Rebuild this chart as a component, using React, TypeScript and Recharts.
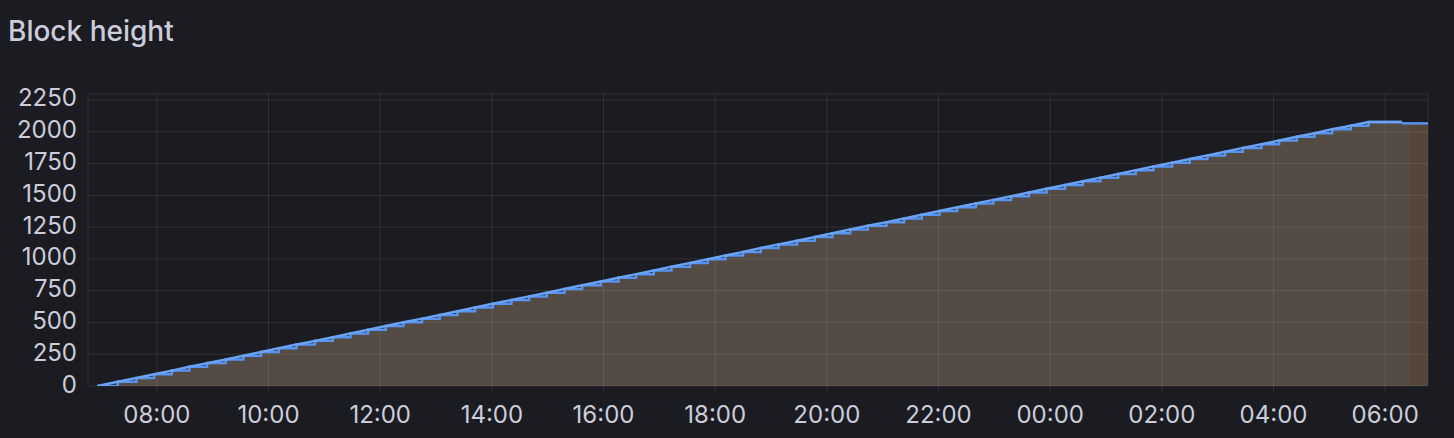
import React from "react";
import { ComposedChart, Area, Line, XAxis, YAxis, CartesianGrid } from "recharts";

if (typeof document !== "undefined") {
  document.body.style.margin = "0";
}

const chartTitle = "Block height";
const yTicks = [0, 250, 500, 750, 1000, 1250, 1500, 1750, 2000, 2250];
const xTickLabels = ["08:00", "10:00", "12:00", "14:00", "16:00", "18:00", "20:00", "22:00", "00:00", "02:00", "04:00", "06:00"];
const windowStart = "06:46";

// block height samples (stepped series + linear series share them)
const sampleTimes = [
  "06:56", "07:18", "07:38", "07:57", "08:16", "08:35", "08:54", "09:14", "09:33", "09:52",
  "10:11", "10:30", "10:50", "11:09", "11:28", "11:47", "12:06", "12:25", "12:45", "13:04",
  "13:23", "13:42", "14:01", "14:21", "14:40", "14:59", "15:18", "15:37", "15:57", "16:16",
  "16:35", "16:54", "17:13", "17:33", "17:52", "18:11", "18:30", "18:49", "19:08", "19:28",
  "19:47", "20:06", "20:25", "20:44", "21:04", "21:23", "21:42", "22:01", "22:20", "22:40",
  "22:59", "23:18", "23:37", "23:56", "00:16", "00:35", "00:54", "01:13", "01:32", "01:51",
  "02:11", "02:30", "02:49", "03:08", "03:27", "03:47", "04:06", "04:25", "04:44", "05:03",
  "05:23", "05:42", "06:18",
];
const sampleHeights = [
  0, 34, 63, 92, 121, 151, 180, 209, 238, 267,
  297, 326, 355, 384, 413, 442, 472, 501, 530, 559,
  588, 618, 647, 676, 705, 734, 764, 793, 822, 851,
  880, 909, 939, 968, 997, 1026, 1055, 1085, 1114, 1143,
  1172, 1201, 1231, 1260, 1289, 1318, 1347, 1376, 1406, 1435,
  1464, 1493, 1522, 1552, 1581, 1610, 1639, 1668, 1698, 1727,
  1756, 1785, 1814, 1843, 1873, 1902, 1931, 1960, 1989, 2019,
  2048, 2077, 2077,
];

// tail of the last reporting series
const tailTimes = ["06:18", "06:28", "06:46"];
const tailHeights = [2066, 2066, 2066];

const toMin = (s: string) => {
  const [h, m] = s.split(":").map(Number);
  return h * 60 + m;
};
const startMin = toMin(windowStart);
const abs = (s: string) => {
  const m = toMin(s);
  return m < startMin ? m + 1440 : m;
};

const samples = sampleTimes.map((t, i) => ({ t: abs(t), v: sampleHeights[i] }));
const tail = tailTimes.map((t, i) => ({ t: t === windowStart ? startMin + 1440 : abs(t), v: tailHeights[i] }));
const tailMain = tail.slice(0, 2);
const tailStrip = tail.slice(1, 3);
const xTicks = xTickLabels.map(abs);

const fmt = (m: number) => {
  const mm = ((m % 1440) + 1440) % 1440;
  const h = Math.floor(mm / 60);
  const mi = mm % 60;
  return `${String(h).padStart(2, "0")}:${String(mi).padStart(2, "0")}`;
};

const TEXT = "#ccccdc";
const GRID = "rgba(204,204,220,0.12)";
const BLUE = "#5794F2";
const FONT = "Inter, 'Noto Sans', sans-serif";
const Y_AXIS_W = 88;
const Y_LABEL_GAP = 11;

const YTick = (props: any) => {
  const { y, payload } = props;
  return (
    <text
      x={Y_AXIS_W - Y_LABEL_GAP}
      y={y}
      dy={-2}
      textAnchor="end"
      dominantBaseline="central"
      fill={TEXT}
      fontSize={24}
      fontFamily={FONT}
    >
      {payload.value}
    </text>
  );
};

export default function App() {
  return (
    <div style={{ position: "relative", width: 1454, height: 438, background: "#1b1c21", overflow: "hidden" }}>
      <div
        style={{
          position: "absolute",
          left: 8,
          top: 17,
          fontFamily: FONT,
          fontSize: 28,
          fontWeight: 500,
          lineHeight: "28px",
          color: TEXT,
        }}
      >
        {chartTitle}
      </div>
      <div style={{ position: "absolute", left: 0, top: 0 }}>
        <ComposedChart width={1454} height={438} margin={{ top: 94, right: 26, bottom: 0, left: 0 }}>
          <CartesianGrid stroke={GRID} strokeWidth={1} />
          <XAxis
            dataKey="t"
            type="number"
            domain={[startMin, startMin + 1440]}
            ticks={xTicks}
            interval={0}
            tickFormatter={fmt}
            height={52}
            axisLine={false}
            tickLine={{ stroke: GRID }}
            tickSize={6}
            tickMargin={14}
            tick={{ fill: TEXT, fontSize: 24, fontFamily: FONT }}
            allowDataOverflow
          />
          <YAxis
            type="number"
            domain={[0, 2297]}
            ticks={yTicks}
            interval={0}
            width={Y_AXIS_W}
            axisLine={false}
            tickLine={false}
            tick={<YTick />}
            allowDataOverflow
          />
          <Area
            data={tailMain}
            dataKey="v"
            type="linear"
            stroke="none"
            fill="#d9b999"
            fillOpacity={0.3}
            isAnimationActive={false}
          />
          <Area
            data={tailStrip}
            dataKey="v"
            type="linear"
            stroke="none"
            fill="#dcab71"
            fillOpacity={0.3}
            isAnimationActive={false}
          />
          <Area
            data={samples}
            dataKey="v"
            type="stepAfter"
            stroke={BLUE}
            strokeWidth={2.5}
            fill="#d9b999"
            fillOpacity={0.3}
            isAnimationActive={false}
          />
          <Line
            data={samples}
            dataKey="v"
            type="linear"
            stroke="#6aa3f5"
            strokeWidth={2.5}
            dot={false}
            isAnimationActive={false}
          />
          <Line
            data={tail}
            dataKey="v"
            type="linear"
            stroke={BLUE}
            strokeWidth={2.5}
            dot={false}
            isAnimationActive={false}
          />
        </ComposedChart>
      </div>
    </div>
  );
}
